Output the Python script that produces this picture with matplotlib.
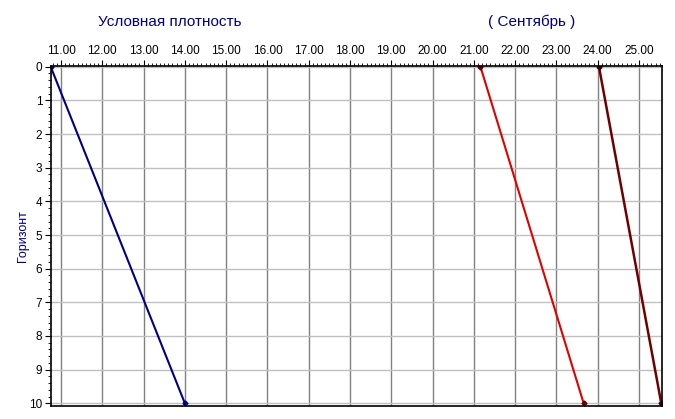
import numpy as np
import matplotlib.pyplot as plt
from matplotlib.ticker import MultipleLocator, FormatStrFormatter

plt.rcParams['font.family'] = ['Liberation Sans', 'DejaVu Sans']

# depth (horizon) and conditional density values for each line
depth = [0, 10]
dens_blue = [10.75, 14.00]
dens_red = [21.16, 23.66]
dens_dark = [24.03, 25.54]

fig = plt.figure(figsize=(6.75, 4.19), dpi=100)
ax = fig.add_axes([0.0751, 0.031, 0.9052, 0.8122])

ax.plot(dens_blue, depth, color='#000080', lw=1.5, marker='D', ms=2.5)
ax.plot(dens_red, depth, color='#e00000', lw=1.5, marker='D', ms=2.5, mec='#600000', mfc='#600000')
ax.plot(dens_dark, depth, color='#700000', lw=1.8, marker='D', ms=2.5, mec='#400000', mfc='#400000')

ax.set_xlim(10.75, 25.55)
ax.set_ylim(10.08, -0.03)

ax.xaxis.tick_top()
ax.xaxis.set_major_locator(MultipleLocator(1))
ax.xaxis.set_minor_locator(MultipleLocator(0.1))
ax.xaxis.set_major_formatter(FormatStrFormatter('%.2f'))
ax.yaxis.set_major_locator(MultipleLocator(1))
ax.yaxis.set_minor_locator(MultipleLocator(0.2))

ax.tick_params(axis='x', which='major', length=4, pad=2, labelsize=8.5)
ax.tick_params(axis='x', which='minor', length=2)
ax.tick_params(axis='y', which='major', length=4, pad=2, labelsize=8.5)
ax.tick_params(axis='y', which='minor', length=2)

ax.grid(axis='x', which='major', color='#808080', lw=1)
ax.grid(axis='y', which='major', color='#c0c0c0', lw=1)
ax.set_axisbelow(True)

for s in ax.spines.values():
    s.set_color('black')
    s.set_linewidth(1.2)

fig.text(170/675, 1-22/419, 'Условная плотность', ha='center', va='center',
         color='#000080', fontsize=11)
fig.text(532/675, 1-22/419, '( Сентябрь )', ha='center', va='center',
         color='#000080', fontsize=11)
fig.text(23/675, 1-236/419, 'Горизонт', ha='center', va='center', rotation=90,
         color='#000080', fontsize=9)

fig.savefig('out.png')
